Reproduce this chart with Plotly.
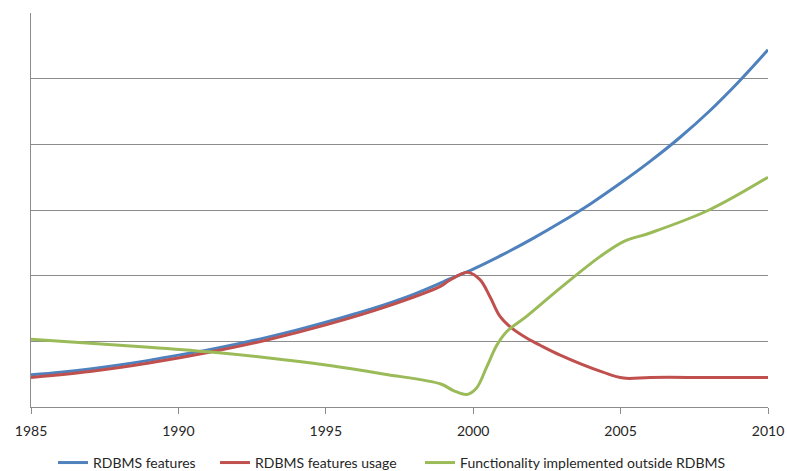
import plotly.graph_objects as go

# RDBMS features over time
features_years = [1985, 1986, 1987, 1988, 1989, 1990, 1991, 1992, 1993, 1994, 1995, 1996, 1997,
                  1998, 1999, 2000, 2001, 2002, 2003, 2004, 2005, 2006, 2007, 2008, 2009, 2010]
features = [0.49, 0.53, 0.58, 0.64, 0.71, 0.79, 0.87, 0.96, 1.06, 1.17, 1.29, 1.42, 1.56,
            1.72, 1.91, 2.10, 2.32, 2.56, 2.82, 3.10, 3.41, 3.74, 4.10, 4.50, 4.95, 5.44]

# RDBMS features usage
usage_years = [1985, 1987, 1989, 1991, 1993, 1995, 1997, 1998.9, 1999.2, 1999.83, 2000.23,
               2000.57, 2000.91, 2001.31, 2001.81, 2002.27, 2002.95, 2004.4, 2005.1,
               2006, 2008, 2010]
usage = [0.45, 0.54, 0.67, 0.83, 1.02, 1.25, 1.52, 1.84, 1.93, 2.05, 1.94,
         1.68, 1.38, 1.20, 1.05, 0.94, 0.79, 0.53, 0.44,
         0.45, 0.45, 0.45]

# Functionality implemented outside RDBMS
outside_years = [1985, 1987, 1989, 1991, 1993, 1995, 1997, 1998.9, 1999.33, 1999.78, 2000.1,
                 2000.46, 2000.8, 2001.14, 2001.81, 2002.95, 2004.3, 2005.1,
                 2006, 2008, 2010]
outside = [1.03, 0.97, 0.91, 0.84, 0.75, 0.64, 0.50, 0.35, 0.25, 0.19, 0.28,
           0.61, 0.94, 1.15, 1.38, 1.81, 2.29, 2.52,
           2.65, 3.00, 3.50]

series_names = ["RDBMS features", "RDBMS features usage", "Functionality implemented outside RDBMS"]
series_colors = ["#4F81BD", "#C0504D", "#9BBB59"]
legend_ids = ["legend", "legend2", "legend3"]

x_ticks = [1985, 1990, 1995, 2000, 2005, 2010]

fig = go.Figure()
for name, color, lid, xs, ys in zip(series_names, series_colors, legend_ids,
                                    [features_years, usage_years, outside_years],
                                    [features, usage, outside]):
    fig.add_trace(go.Scatter(
        x=xs, y=ys, name=name, mode="lines", legend=lid,
        line=dict(color=color, width=3, shape="spline", smoothing=1.0),
    ))

# one legend box per series so each entry sits at its own spot under the axis
plot_left, plot_width = 31, 737
legend_left_px = [53, 215, 420]
legend_style = dict(orientation="h", xanchor="left", y=-0.142, yanchor="middle",
                    font=dict(size=14), itemwidth=30, bgcolor="rgba(0,0,0,0)")

axis_gray = "#8C8C8C"
fig.update_layout(
    width=787, height=471,
    margin=dict(l=31, r=19, t=13, b=64, autoexpand=False),
    plot_bgcolor="white", paper_bgcolor="white",
    font=dict(family="Lato", size=14, color="#262626"),
    showlegend=True,
    legend=dict(x=(legend_left_px[0] - plot_left) / plot_width, **legend_style),
    legend2=dict(x=(legend_left_px[1] - plot_left) / plot_width, **legend_style),
    legend3=dict(x=(legend_left_px[2] - plot_left) / plot_width, **legend_style),
    xaxis=dict(range=[1985, 2010], tickvals=x_ticks, ticktext=[str(v) for v in x_ticks],
               showgrid=False, zeroline=False, showline=True, linecolor=axis_gray, linewidth=1,
               ticks="outside", ticklen=6, tickcolor=axis_gray, tickfont=dict(size=14),
               ticklabelstandoff=5, automargin=False),
    yaxis=dict(range=[0, 6], dtick=1, showticklabels=False, showgrid=True,
               gridcolor=axis_gray, gridwidth=1, zeroline=False, automargin=False,
               showline=True, linecolor=axis_gray, linewidth=1, ticks=""),
)

fig.write_html("out.html")
